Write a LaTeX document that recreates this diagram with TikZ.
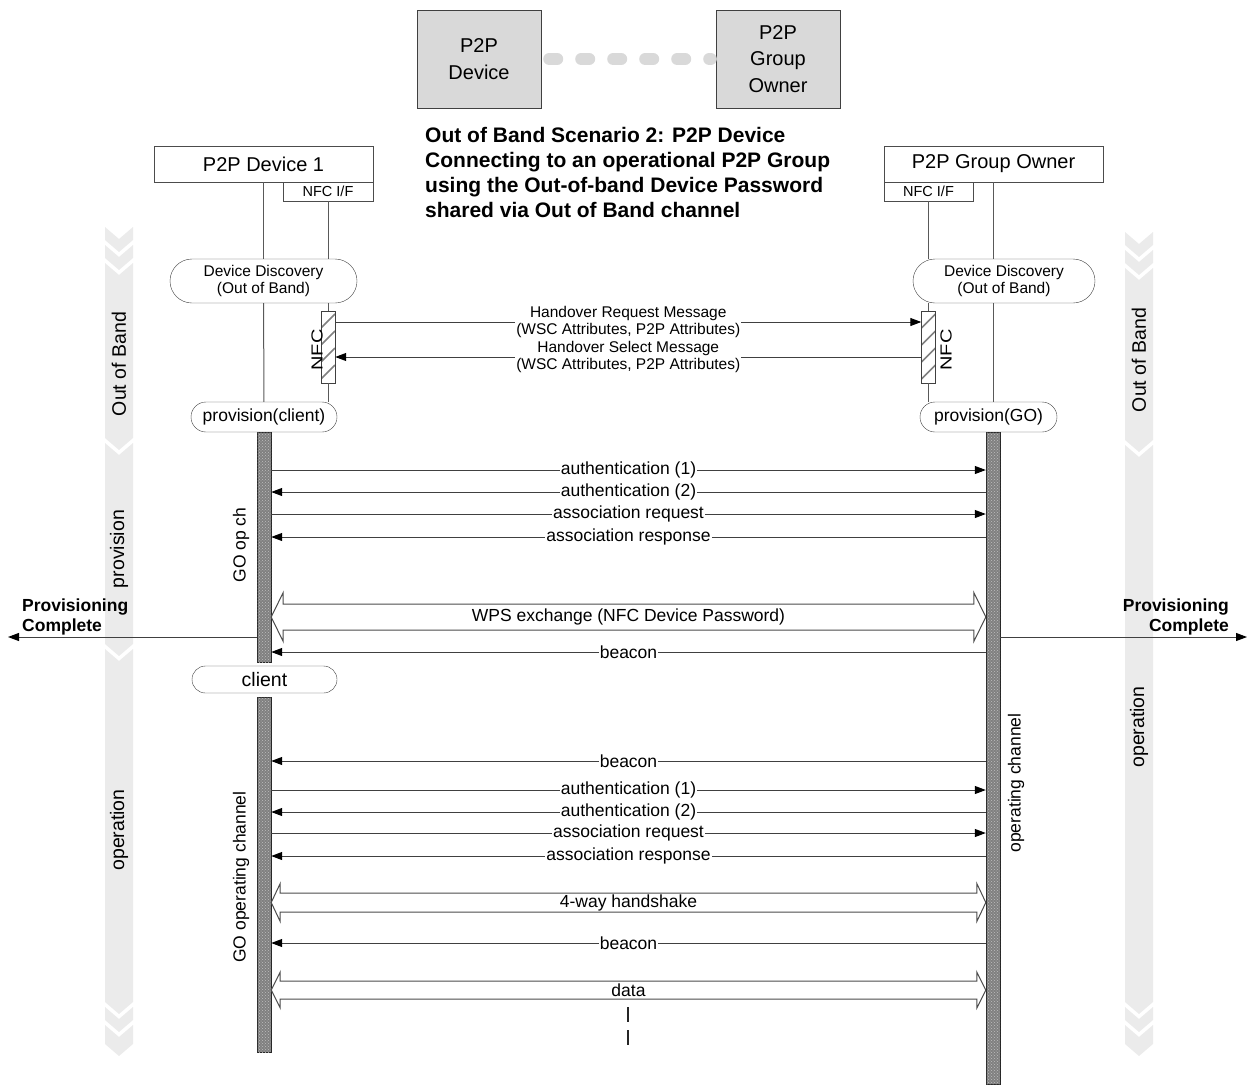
\documentclass[tikz,border=0pt]{standalone}
\usepackage{fontspec}
\setmainfont{Liberation Sans}
\usetikzlibrary{arrows.meta,shapes.misc,patterns,calc}

\newcommand{\fsz}[2]{\fontsize{#1}{#2}\selectfont}
\newcommand{\band}[3]{\fill[bandc] (#1,#2) -- ++(14,12) -- ++(14,-12) -- (#1+28,#3) -- ++(-14,12) -- ++(-14,-12) -- cycle;}
\newcommand{\dblarr}[6]{\draw[hollow] (#1.east |- 0,#3) -- ++(#6,-#5) -- ++(0,#5-#4) -- ($(#2.west |- 0,#3)+(-#6,-#4)$) -- ++(0,#4-#5) -- (#2.west |- 0,#3) -- ++(-#6,#5) -- ++(0,#4-#5) -- ($(#1.east |- 0,#3)+(#6,#4)$) -- ++(0,#5-#4) -- cycle;}

\tikzset{
  bandc/.style={fill=black!8},
  topbox/.style={draw=black!75, fill=black!15, minimum width=124, minimum height=98, inner sep=0, align=center, font=\fsz{20}{26.5}},
  link/.style={black!15, line width=12, line cap=round, dash pattern=on 8pt off 24pt},
  hdr/.style={draw=black!70, fill=white, minimum width=219, minimum height=36, inner sep=0, font=\fsz{20}{23}},
  nfcif/.style={draw=black!70, fill=white, minimum width=90, minimum height=19, inner sep=0, font=\fsz{14.5}{16}},
  life/.style={black!65, line width=1},
  pill/.style={draw=black!75, fill=white, rounded rectangle, inner sep=0, align=center},
  hatch/.style={draw=black!75, fill=white, minimum width=14, minimum height=72, inner sep=0,
    path picture={\foreach \k in {1,...,4} \draw[black!50, line width=1.5pt] ([yshift=-\k*17pt]path picture bounding box.north west) -- ++(14pt,14pt);}},
  bar/.style={draw=black!85, fill=black!50, minimum width=14, inner sep=0, postaction={pattern=crosshatch dots, pattern color=black!25}},
  msg/.style={black!75, line width=1, -{Triangle[length=11pt,width=8pt,color=black]}},
  lbl/.style={fill=white, text=black, inner xsep=1, inner ysep=0, font=\fsz{17.5}{20}},
  hlbl/.style={fill=white, text=black, inner sep=1, align=center, font=\fsz{15.5}{17.5}},
  hollow/.style={draw=black!70, fill=white, line width=1},
  vtxt/.style={rotate=90, inner sep=0, font=\fsz{19.5}{22}},
  ctxt/.style={rotate=90, inner sep=0, font=\fsz{17.5}{20}},
  pc/.style={inner sep=0, font=\bfseries\fsz{17.5}{20}}
}

\begin{document}
\begin{tikzpicture}[x=1pt, y=-1pt]
  \useasboundingbox (0,0) rectangle (1249,1084);
  \foreach \t/\b in {227/240, 245/258, 263/438, 443/644, 649/1002, 1007/1020, 1025/1044} \band{105}{\t}{\b};
  \foreach \t/\b in {232/245, 250/263, 268/440, 445/1002, 1007/1020, 1025/1044} \band{1125}{\t}{\b};
  \node[vtxt] (oob1) at (119,364) {Out of Band};
  \node[vtxt] (prv) at (119,549) {provision};
  \node[vtxt] (op1) at (119,830) {operation};
  \node[vtxt] (oob2) at (1139,360) {Out of Band};
  \node[vtxt] (op2) at (1139,727) {operation};

  \node[topbox] (pd) at (479,59) {P2P\\Device};
  \node[topbox] (pg) at (778,59) {P2P\\Group\\Owner};
  \draw[link] ([xshift=8pt]pd.east) -- ([xshift=-5pt]pg.west);
  \node[anchor=north west, inner sep=0, align=left, font=\bfseries\fsz{21}{25}] (ttl) at (425,127)
    {Out of Band Scenario 2: P2P Device\\Connecting to an operational P2P Group\\using the Out-of-band Device Password\\shared via Out of Band channel};

  \node[hdr] (d1) at (263.5,164) {P2P Device 1};
  \node[nfcif] (n1) at (328,191.5) {NFC I/F};
  \node[hdr] (g1) at (993.5,164) {P2P Group Owner};
  \node[nfcif, minimum width=89] (n2) at (928.5,191.5) {NFC I/F};

  \node[pill, minimum width=187, minimum height=44, font=\fsz{15.5}{17}] (dd1) at (263.5,281) {Device Discovery\\(Out of Band)};
  \node[pill, minimum width=182, minimum height=44, font=\fsz{15.5}{17}] (dd2) at (1004,281) {Device Discovery\\(Out of Band)};
  \node[hatch] (h1) at (328,347) {};
  \node[hatch] (h2) at (928.5,347) {};
  \node[ctxt, font=\fsz{16}{18}] (nf1) at (317,350) {\scalebox{1.25}[1]{NFC}};
  \node[ctxt, font=\fsz{16}{18}] (nf2) at (946,350) {\scalebox{1.25}[1]{NFC}};
  \node[pill, minimum width=146, minimum height=30, font=\fsz{17.5}{20}] (p1) at (264,417) {provision(client)};
  \node[pill, minimum width=137, minimum height=30, font=\fsz{17.5}{20}] (p2) at (988.5,417) {provision(GO)};
  \node[pill, minimum width=145, minimum height=27, font=\fsz{19.5}{22}] (cl) at (264.5,679.5) {client};

  \draw[life] (d1) -- (dd1);
  \draw[life] (dd1) -- (p1);
  \draw[life] (n1) -- (n1 |- dd1.north);
  \draw[life] (n1 |- dd1.south) -- (h1);
  \draw[life] (h1) -- (n1 |- p1.north);
  \draw[life] (g1) -- (g1 |- dd2.north);
  \draw[life] (g1 |- dd2.south) -- (g1 |- p2.north);
  \draw[life] (n2) -- (n2 |- dd2.north);
  \draw[life] (n2 |- dd2.south) -- (h2);
  \draw[life] (h2) -- (n2 |- p2.north);

  \draw[msg] (h1.east |- 0,322) -- node[hlbl] (ho1) {Handover Request Message\\(WSC Attributes, P2P Attributes)} (h2.west |- 0,322);
  \draw[msg] (h2.west |- 0,357) -- node[hlbl] (ho2) {Handover Select Message\\(WSC Attributes, P2P Attributes)} (h1.east |- 0,357);

  \node[bar, minimum height=230] (a1) at (264,547) {};
  \node[bar, minimum height=355] (a2) at (264,874.5) {};
  \node[bar, minimum height=652] (a3) at (993,758) {};
  \node[ctxt] (goc) at (241,545) {GO op ch};
  \node[ctxt] (goc2) at (241,877) {GO operating channel};
  \node[ctxt] (opc) at (1016,783) {operating channel};

  \foreach \l/\y/\t [count=\i] in {a1/470/authentication (1), a1/514/association request, a2/790/authentication (1), a2/833/association request}
    \draw[msg] (\l.east |- 0,\y) -- node[lbl] (mr\i) {\t} (a3.west |- 0,\y);
  \foreach \l/\y/\t [count=\i] in {a1/492/authentication (2), a1/537/association response, a1/652/beacon, a2/761/beacon, a2/812/authentication (2), a2/856/association response, a2/943/beacon}
    \draw[msg] (a3.west |- 0,\y) -- node[lbl] (ml\i) {\t} (\l.east |- 0,\y);

  \dblarr{a1}{a3}{617}{13}{24.5}{12}
  \node[lbl, fill=none] (wps) at (628.5,617) {WPS exchange (NFC Device Password)};
  \dblarr{a2}{a3}{902.5}{9.5}{19}{9}
  \node[lbl, fill=none] (hs) at (628.5,902.5) {4-way handshake};
  \dblarr{a2}{a3}{990}{9}{18}{9}
  \node[lbl, fill=none] (dt) at (628.5,990) {data};
  \coordinate (c1) at (628,1007);
  \coordinate (c2) at (628,1045);
  \draw[black!85, line width=1.2, dash pattern=on 15pt off 8pt] (c1) -- (c2);

  \node[pc, align=left, anchor=south west] (pcl) at (22,635) {Provisioning\\Complete};
  \node[pc, align=right, anchor=south east] (pcr) at (1229,635) {Provisioning\\Complete};
  \coordinate (e1) at (8,637);
  \coordinate (e2) at (1247,637);
  \draw[msg] (a1.west |- e1) -- (e1);
  \draw[msg] (a3.east |- e2) -- (e2);
\end{tikzpicture}
\end{document}
